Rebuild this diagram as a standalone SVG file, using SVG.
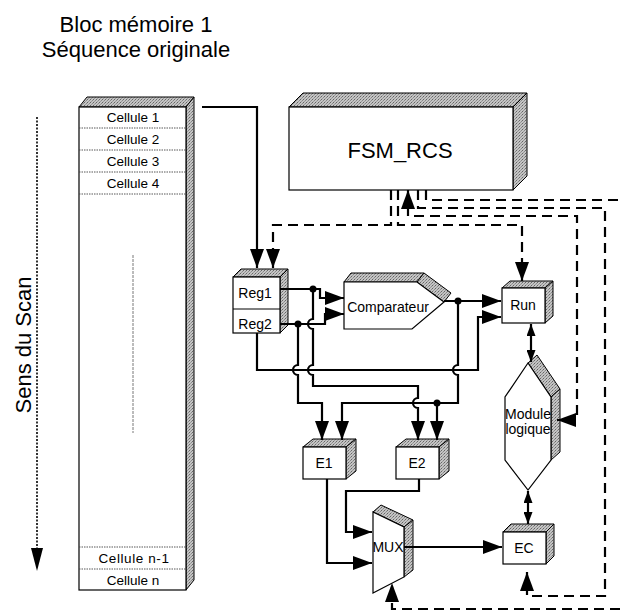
<svg xmlns="http://www.w3.org/2000/svg" width="620" height="612" viewBox="0 0 620 612">
<style>
text{font-family:"Liberation Sans",Arial,sans-serif;fill:#000}
.big{font-size:22px}
.lbl{font-size:14px;text-anchor:middle}
.cell{font-size:13.5px;text-anchor:middle}
.front{fill:#fff;stroke:#000;stroke-width:1.2}
.shade{fill:url(#hatch);stroke:#000;stroke-width:1}
.sep{stroke:#444;stroke-width:0.9;stroke-dasharray:1.5 1;fill:none}
.wire{fill:none;stroke:#000;stroke-width:2.2}
.dash{fill:none;stroke:#000;stroke-width:2.2;stroke-dasharray:10 6}
.dot{fill:#000}
</style>
<defs>
<pattern id="hatch" width="3" height="3" patternUnits="userSpaceOnUse">
<rect width="3" height="3" fill="#c4c4c4"/>
<rect width="1" height="1" fill="#666"/>
<rect x="2" y="1" width="1" height="1" fill="#888"/>
<rect x="1" y="2" width="1" height="1" fill="#999"/>
</pattern>
<marker id="ah" viewBox="0 0 19 14" refX="19" refY="7" markerWidth="19" markerHeight="14" markerUnits="userSpaceOnUse" orient="auto-start-reverse">
<path d="M0,0 L19,7 L0,14 z" fill="#000"/>
</marker>
<marker id="as" viewBox="0 0 12 9" refX="12" refY="4.5" markerWidth="12" markerHeight="9" markerUnits="userSpaceOnUse" orient="auto-start-reverse">
<path d="M0,0 L12,4.5 L0,9 z" fill="#000"/>
</marker>
</defs>
<rect width="620" height="612" fill="#fff"/>

<g id="title">
<text class="big" x="136" y="32" text-anchor="middle">Bloc mémoire 1</text>
<text class="big" x="136" y="57" text-anchor="middle">Séquence originale</text>
</g>

<g id="scan">
<path d="M37,117 V550" fill="none" stroke="#000" stroke-width="1.6" stroke-dasharray="2 1.5"/>
<polygon points="31,548 43,548 37,571" fill="#000"/>
<text class="big" x="31" y="345" text-anchor="middle" transform="rotate(-90 31 345)">Sens du Scan</text>
</g>

<g id="memoire">
<polygon class="shade" points="79,107 87,97 194,97 186,107"/>
<polygon class="shade" points="186,107 194,97 194,580 186,590"/>
<rect class="front" x="79" y="107" width="107" height="483"/>
<line class="sep" x1="79" y1="128" x2="186" y2="128"/>
<line class="sep" x1="79" y1="150" x2="186" y2="150"/>
<line class="sep" x1="79" y1="172" x2="186" y2="172"/>
<line class="sep" x1="79" y1="194" x2="186" y2="194"/>
<line class="sep" x1="79" y1="547" x2="186" y2="547"/>
<line class="sep" x1="79" y1="569" x2="186" y2="569"/>
<line x1="133" y1="255" x2="133" y2="433" stroke="#555" stroke-width="0.8" stroke-dasharray="3 1"/>
<text class="cell" x="133" y="122">Cellule 1</text>
<text class="cell" x="133" y="144">Cellule 2</text>
<text class="cell" x="133" y="166">Cellule 3</text>
<text class="cell" x="133" y="188">Cellule 4</text>
<text class="cell" x="134" y="563" letter-spacing="0.6">Cellule n-1</text>
<text class="cell" x="133" y="585">Cellule n</text>
</g>

<g id="fsm">
<polygon class="shade" points="289,107 303,93 527,93 513,107"/>
<polygon class="shade" points="513,107 527,93 527,176 513,190"/>
<rect class="front" x="289" y="107" width="224" height="83"/>
<text class="big" x="400" y="158" text-anchor="middle">FSM_RCS</text>
</g>

<g id="reg">
<polygon class="shade" points="233,277 241,269 288,269 280,277"/>
<polygon class="shade" points="280,277 288,269 288,325 280,333"/>
<rect class="front" x="233" y="277" width="47" height="56"/>
<line x1="233" y1="309" x2="280" y2="309" stroke="#000" stroke-width="1"/>
<text class="lbl" x="255" y="298">Reg1</text>
<text class="lbl" x="255" y="329">Reg2</text>
</g>

<g id="comparateur">
<polygon class="shade" points="344,282 351,273 424,273 417,282"/>
<polygon class="shade" points="417,282 424,273 451,293 444,302"/>
<polygon class="front" points="344,282 417,282 444,302 412,329 344,329"/>
<text x="388" y="312" font-size="14" text-anchor="middle">Comparateur</text>
</g>

<g id="run">
<polygon class="shade" points="502,288 510,281 553,281 545,288"/>
<polygon class="shade" points="545,288 553,281 553,316 545,323"/>
<rect class="front" x="502" y="288" width="43" height="35"/>
<text class="lbl" x="523" y="310">Run</text>
</g>

<g id="module">
<polygon class="shade" points="528,363 537,355 560,389 551,397"/>
<polygon class="shade" points="551,397 560,389 560,452 551,460"/>
<polygon class="front" points="528,363 551,397 551,460 528,490 505,460 505,397"/>
<text class="lbl" x="528" y="419">Module</text>
<text class="lbl" x="528" y="434">logique</text>
</g>

<g id="e1">
<polygon class="shade" points="303,447 313,439 356,439 346,447"/>
<polygon class="shade" points="346,447 356,439 356,471 346,479"/>
<rect class="front" x="303" y="447" width="43" height="32"/>
<text class="lbl" x="324" y="468">E1</text>
</g>

<g id="e2">
<polygon class="shade" points="396,447 406,439 449,439 439,447"/>
<polygon class="shade" points="439,447 449,439 449,471 439,479"/>
<rect class="front" x="396" y="447" width="43" height="32"/>
<text class="lbl" x="417" y="468">E2</text>
</g>

<g id="mux">
<polygon class="shade" points="373,512 381,505 413,520 404,527"/>
<polygon class="shade" points="404,527 413,520 413,570 404,577"/>
<polygon class="front" points="373,512 404,527 404,577 373,593"/>
<text class="lbl" x="388" y="552">MUX</text>
</g>

<g id="ec">
<polygon class="shade" points="503,532 511,524 554,524 546,532"/>
<polygon class="shade" points="546,532 554,524 554,556 546,564"/>
<rect class="front" x="503" y="532" width="43" height="32"/>
<text class="lbl" x="524" y="553">EC</text>
</g>

<g id="connectors">
<path class="wire" d="M202,107 H257 V268" marker-end="url(#ah)"/>
<path class="wire" d="M280,289 H320 V298 H344" marker-end="url(#ah)"/>
<path class="wire" d="M280,324 H325 V314 H344" marker-end="url(#ah)"/>
<path class="wire" d="M313,289 V319 A5,5 0 0 0 313,329 V365 A5,5 0 0 0 313,375 V386 H418 V398 A5,5 0 0 0 418,408 V440" marker-end="url(#ah)"/>
<path class="wire" d="M298,324 V365 A5,5 0 0 0 298,375 V403 H322 V440" marker-end="url(#ah)"/>
<path class="wire" d="M257,333 V370 H478 V317 H501" marker-end="url(#ah)"/>
<path class="wire" d="M444,301 H501" marker-end="url(#ah)"/>
<path class="wire" d="M458,301 V365 A5,5 0 0 0 458,375 V403 H342 V440" marker-end="url(#ah)"/>
<path class="wire" d="M437,403 V440" marker-end="url(#ah)"/>
<path class="wire" d="M327,479 V563 H372" marker-end="url(#ah)"/>
<path class="wire" d="M419,479 V491 H346 V532 H372" marker-end="url(#ah)"/>
<path class="wire" d="M404,547 H502" marker-end="url(#ah)"/>
<path class="wire" d="M531,324 V362" marker-start="url(#as)" marker-end="url(#as)"/>
<path class="wire" d="M528,491 V524" marker-start="url(#as)" marker-end="url(#as)"/>
<circle class="dot" cx="313" cy="289" r="3.5"/>
<circle class="dot" cx="298" cy="324" r="3.5"/>
<circle class="dot" cx="458" cy="301" r="3.5"/>
<circle class="dot" cx="437" cy="403" r="3.5"/>
<path class="dash" d="M391,190 V225 H273 V268" marker-end="url(#ah)"/>
<path class="dash" d="M398,190 V225 H522 V281" marker-end="url(#ah)"/>
<path class="dash" d="M408,190 V216 H577 V420 H557" marker-start="url(#ah)" marker-end="url(#ah)"/>
<path class="dash" d="M418,190 V208 H605 V596 H527 V572" marker-end="url(#ah)"/>
<path class="dash" d="M426,190 V200 H620"/>
<path class="dash" d="M620,609 H392 V583" stroke="#444" marker-end="url(#ah)"/>
</g>
</svg>
